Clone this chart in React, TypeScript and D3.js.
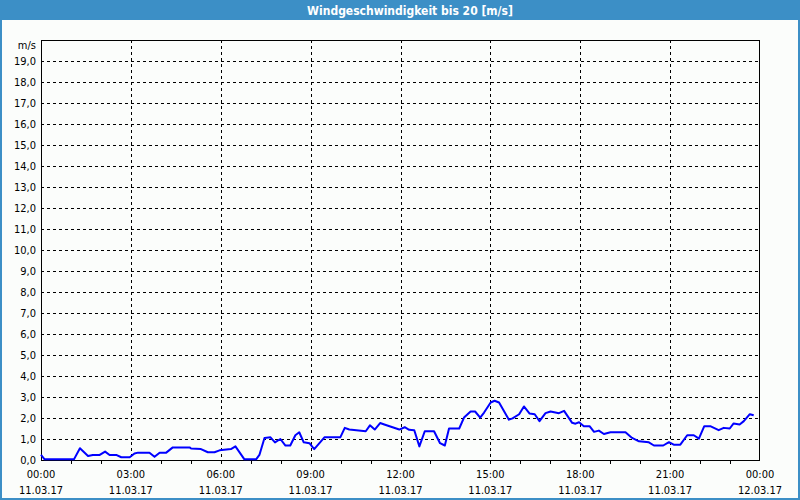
import React from "react";
import * as d3 from "d3";

const title = "Windgeschwindigkeit bis 20 [m/s]";
const unitLabel = "m/s";
// hours since 11.03.17 00:00
const hours = [0, 0.12, 1.1, 1.3, 1.57, 1.73, 1.96, 2.14, 2.29, 2.51, 2.68, 2.96, 3.12, 3.24, 3.62, 3.79, 3.96, 4.18, 4.4, 4.96, 5.01, 5.34, 5.57, 5.79, 5.96, 6.34, 6.49, 6.79, 7.18, 7.29, 7.46, 7.66, 7.81, 7.99, 8.16, 8.32, 8.49, 8.62, 8.77, 8.96, 9.12, 9.46, 9.68, 9.99, 10.14, 10.29, 10.84, 10.98, 11.14, 11.32, 11.46, 11.96, 12.14, 12.29, 12.46, 12.63, 12.81, 13.12, 13.32, 13.48, 13.62, 13.96, 14.12, 14.34, 14.49, 14.66, 14.79, 15.01, 15.14, 15.29, 15.62, 15.74, 15.96, 16.12, 16.31, 16.48, 16.64, 16.84, 17.01, 17.29, 17.46, 17.73, 17.84, 17.96, 18.12, 18.31, 18.46, 18.62, 18.79, 19.01, 19.51, 19.73, 19.96, 20.29, 20.46, 20.77, 20.96, 21.12, 21.34, 21.57, 21.79, 21.96, 22.14, 22.34, 22.62, 22.79, 22.99, 23.12, 23.32, 23.46, 23.66, 23.79];
const speeds = [0.25, 0.03, 0.03, 0.56, 0.19, 0.24, 0.24, 0.4, 0.24, 0.24, 0.13, 0.13, 0.31, 0.35, 0.35, 0.15, 0.35, 0.35, 0.6, 0.6, 0.55, 0.52, 0.37, 0.37, 0.46, 0.52, 0.65, 0.03, 0.03, 0.24, 1.05, 1.08, 0.84, 1.0, 0.69, 0.69, 1.18, 1.32, 0.84, 0.8, 0.52, 1.08, 1.08, 1.08, 1.53, 1.45, 1.37, 1.65, 1.45, 1.76, 1.69, 1.45, 1.56, 1.44, 1.42, 0.65, 1.37, 1.37, 0.8, 0.69, 1.5, 1.5, 2.02, 2.31, 2.31, 2.02, 2.26, 2.74, 2.82, 2.74, 1.92, 1.98, 2.18, 2.55, 2.21, 2.18, 1.85, 2.23, 2.31, 2.23, 2.34, 1.77, 1.73, 1.8, 1.61, 1.61, 1.34, 1.4, 1.24, 1.32, 1.32, 1.05, 0.89, 0.84, 0.69, 0.69, 0.85, 0.73, 0.73, 1.18, 1.18, 1.02, 1.61, 1.61, 1.42, 1.53, 1.5, 1.74, 1.69, 1.85, 2.18, 2.13];
const yTicks = d3.range(0, 20, 1);
const xTickHours = [0, 3, 6, 9, 12, 15, 18, 21, 24];
const xTimeLabels = ["00:00", "03:00", "06:00", "09:00", "12:00", "15:00", "18:00", "21:00", "00:00"];
const xDateLabels = ["11.03.17", "11.03.17", "11.03.17", "11.03.17", "11.03.17", "11.03.17", "11.03.17", "11.03.17", "12.03.17"];

const W = 800, H = 500;
const L = 41, R = 760, T = 40, B = 460;
const font = 'Tahoma, "DejaVu Sans Condensed", "DejaVu Sans", sans-serif';

export default function App() {
  const x = d3.scaleLinear().domain([0, 24]).range([L, R]);
  const y = d3.scaleLinear().domain([0, 20]).range([B, T]);
  const line = d3.line<number>().x((_, i) => x(hours[i])).y((d) => y(d));
  const minor = d3.range(1, 24, 1);
  return (
    <svg width={W} height={H} style={{ position: "absolute", left: 0, top: 0 }} fontFamily={font}>
      <rect x={0} y={0} width={W} height={H} fill="#3c8fc6" />
      <rect x={2} y={20} width={W - 4} height={H - 22} fill="#fbfdfb" />
      <text x={410} y={15} fill="#ffffff" fontSize={12} fontWeight="bold" textAnchor="middle" fontFamily='"DejaVu Sans Condensed", "DejaVu Sans", sans-serif'>{title}</text>
      {yTicks.filter((v) => v > 0).map((v) => (
        <line key={"gy" + v} x1={L} x2={R} y1={Math.round(y(v)) + 0.5} y2={Math.round(y(v)) + 0.5} stroke="#000" strokeDasharray="3,3" />
      ))}
      {xTickHours.slice(1, -1).map((h) => (
        <line key={"gx" + h} x1={Math.round(x(h)) + 0.5} x2={Math.round(x(h)) + 0.5} y1={T} y2={B} stroke="#000" strokeDasharray="3,3" />
      ))}
      {minor.map((h) => (
        <line key={"mt" + h} x1={Math.round(x(h)) + 0.5} x2={Math.round(x(h)) + 0.5} y1={B} y2={B + 4} stroke="#000" />
      ))}
      <rect x={L + 0.5} y={T + 0.5} width={R - L - 1} height={B - T} fill="none" stroke="#000" />
      <path d={line(speeds) || ""} fill="none" stroke="#0000ff" strokeWidth={2} strokeLinejoin="round" />
      {yTicks.map((v) => (
        <text key={"yl" + v} x={36} y={y(v) + 4} fontSize={11} textAnchor="end" fill="#000">{d3.format(".1f")(v).replace(".", ",")}</text>
      ))}
      <text x={36} y={y(20) + 9} fontSize={11} textAnchor="end" fill="#000">{unitLabel}</text>
      {xTickHours.map((h, i) => (
        <g key={"xl" + i}>
          <text x={x(h)} y={478} fontSize={11} textAnchor="middle" fill="#000">{xTimeLabels[i]}</text>
          <text x={x(h)} y={494} fontSize={11} textAnchor="middle" fill="#000">{xDateLabels[i]}</text>
        </g>
      ))}
    </svg>
  );
}
